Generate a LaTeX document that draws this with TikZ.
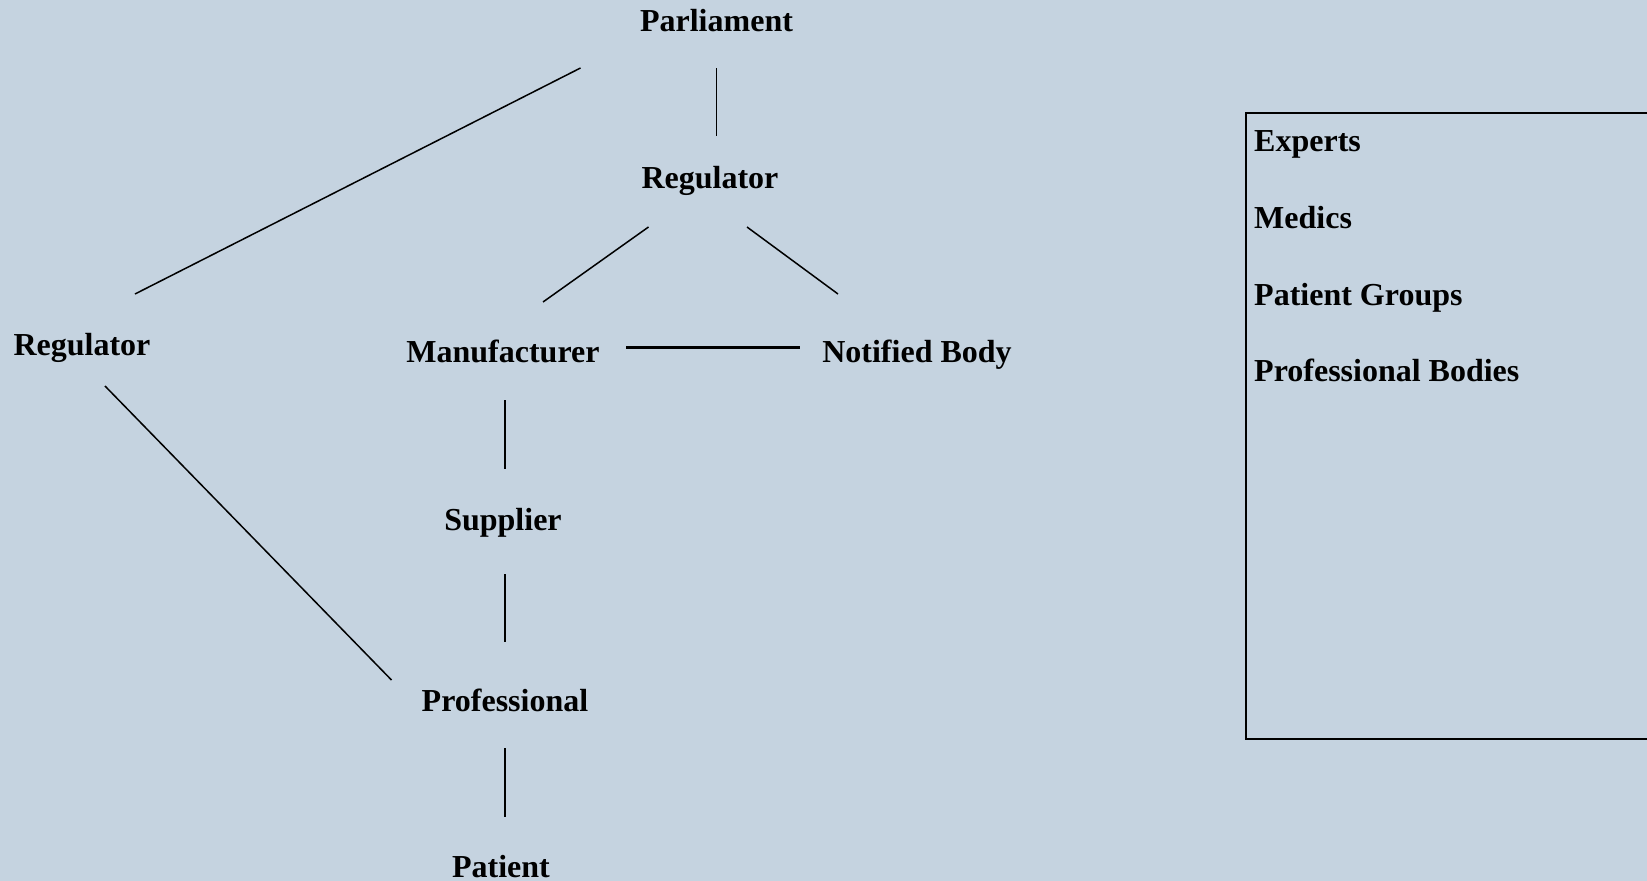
\documentclass[tikz,border=0pt]{standalone}
\usepackage{fontspec}
\setmainfont{Liberation Serif}
\usetikzlibrary{calc, positioning}
\definecolor{bgblue}{RGB}{197,211,224}

\begin{document}
\begin{tikzpicture}[x=1pt,y=-1pt,
	lbl/.style={font=\bfseries\fontsize{32}{38}\selectfont, anchor=base, inner sep=0pt},
	item/.style={lbl, anchor=base west},
	link/.style={line width=1.5pt}]

	\useasboundingbox (0,0) rectangle (1647,881);
	\fill[bgblue] (0,0) rectangle (1647,881);

	% connector ends
	\coordinate (P1) at (716.5,68);
	\coordinate (P2) at (580.5,68);
	\coordinate (R1) at (716.5,136);
	\coordinate (R2) at (648.5,227);
	\coordinate (R3) at (747,227);
	\coordinate (L1) at (135,294);
	\coordinate (L2) at (105,386);
	\coordinate (M1) at (543,302);
	\coordinate (M2) at (626,347);
	\coordinate (M3) at (505,400);
	\coordinate (N1) at (838,294);
	\coordinate (N2) at (800,347);
	\coordinate (S1) at (505,469);
	\coordinate (S2) at (505,574);
	\coordinate (F1) at (391.5,680);
	\coordinate (F2) at (505,642);
	\coordinate (F3) at (505,748);
	\coordinate (T1) at (505,817);

	\node[lbl] (parl) at (716.5,31) {Parliament};
	\node[lbl] (reg) at (710,188) {Regulator};
	\node[lbl] (regL) at (82,355) {Regulator};
	\node[lbl] (manu) at (503,362) {Manufacturer};
	\node[lbl] (notif) at (917,362) {Notified Body};
	\node[lbl] (supp) at (503,530) {Supplier};
	\node[lbl] (prof) at (505,711) {Professional};
	\node[lbl] (pat) at (501,877) {Patient};

	\draw[link] (P1) -- (R1);
	\draw[link] (P2) -- (L1);
	\draw[link] (R2) -- (M1);
	\draw[link] (R3) -- (N1);
	\draw[line width=3pt] (M2) -- (N2);
	\draw[link] (L2) -- (F1);
	\draw[link] (M3) -- (S1);
	\draw[link] (S2) -- (F2);
	\draw[link] (F3) -- (T1);

	% side box
	\draw[line width=2.2pt] (1647,113) -- (1246,113) -- (1246,739) -- (1647,739);
	\node[item] (exp) at (1254,151.5) {Experts};
	\node[item] (med) at (1254,228.5) {Medics};
	\node[item] (pgr) at (1254,305) {Patient Groups};
	\node[item] (pbod) at (1254,381.5) {Professional Bodies};

\end{tikzpicture}
\end{document}
